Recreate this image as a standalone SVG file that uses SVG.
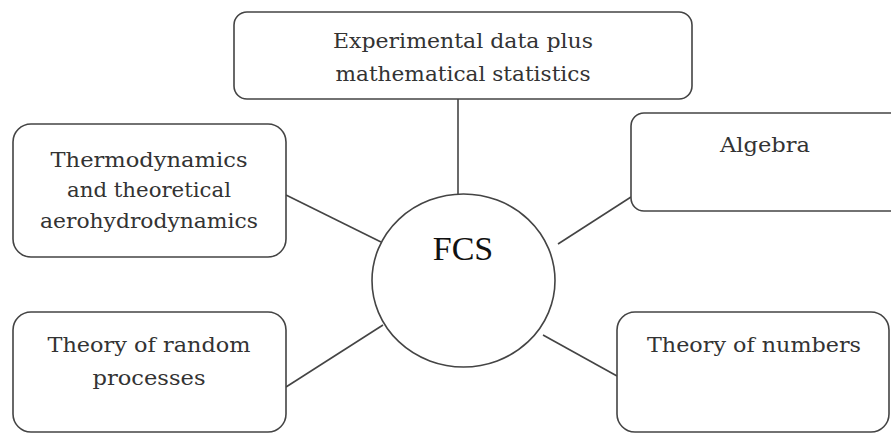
<svg xmlns="http://www.w3.org/2000/svg" width="891" height="435" viewBox="0 0 891 435">
<style>
.box{fill:#fff;stroke:#444;stroke-width:1.6}
.conn line{stroke:#444;stroke-width:1.6}
.lbl{font-family:"DejaVu Serif","Liberation Serif",serif;font-size:21px;fill:#333;text-anchor:middle}
.fcs{font-family:"Liberation Serif","Times New Roman",serif;font-size:34px;fill:#111;text-anchor:middle}
</style>
<rect width="891" height="435" fill="#fff"/>
<g class="conn" id="connectors">
<line x1="458" y1="99" x2="458" y2="194"/>
<line x1="286" y1="195" x2="381" y2="242"/>
<line x1="631" y1="197" x2="558" y2="244"/>
<line x1="286" y1="387" x2="383" y2="325"/>
<line x1="543" y1="335" x2="617" y2="376"/>
</g>
<g id="top">
<rect class="box" x="234" y="12" width="458" height="87" rx="13"/>
<text class="lbl" x="463" y="48" textLength="260" lengthAdjust="spacingAndGlyphs">Experimental data plus</text>
<text class="lbl" x="463" y="81" textLength="255" lengthAdjust="spacingAndGlyphs">mathematical statistics</text>
</g>
<g id="thermo">
<rect class="box" x="13" y="124" width="273" height="133" rx="18"/>
<text class="lbl" x="149" y="167" textLength="197" lengthAdjust="spacingAndGlyphs">Thermodynamics</text>
<text class="lbl" x="149" y="197" textLength="164" lengthAdjust="spacingAndGlyphs">and theoretical</text>
<text class="lbl" x="149" y="228" textLength="218" lengthAdjust="spacingAndGlyphs">aerohydrodynamics</text>
</g>
<g id="algebra">
<rect class="box" x="631" y="113" width="280" height="98" rx="13"/>
<text class="lbl" x="765" y="152" textLength="90" lengthAdjust="spacingAndGlyphs">Algebra</text>
</g>
<g id="random">
<rect class="box" x="13" y="312" width="273" height="120" rx="18"/>
<text class="lbl" x="149" y="352" textLength="203" lengthAdjust="spacingAndGlyphs">Theory of random</text>
<text class="lbl" x="149" y="385" textLength="113" lengthAdjust="spacingAndGlyphs">processes</text>
</g>
<g id="numbers">
<rect class="box" x="617" y="312" width="272" height="120" rx="18"/>
<text class="lbl" x="754" y="352" textLength="214" lengthAdjust="spacingAndGlyphs">Theory of numbers</text>
</g>
<g id="fcs">
<ellipse class="box" cx="463.5" cy="280.5" rx="91.5" ry="86.5"/>
<text class="fcs" x="463" y="260">FCS</text>
</g>
</svg>
